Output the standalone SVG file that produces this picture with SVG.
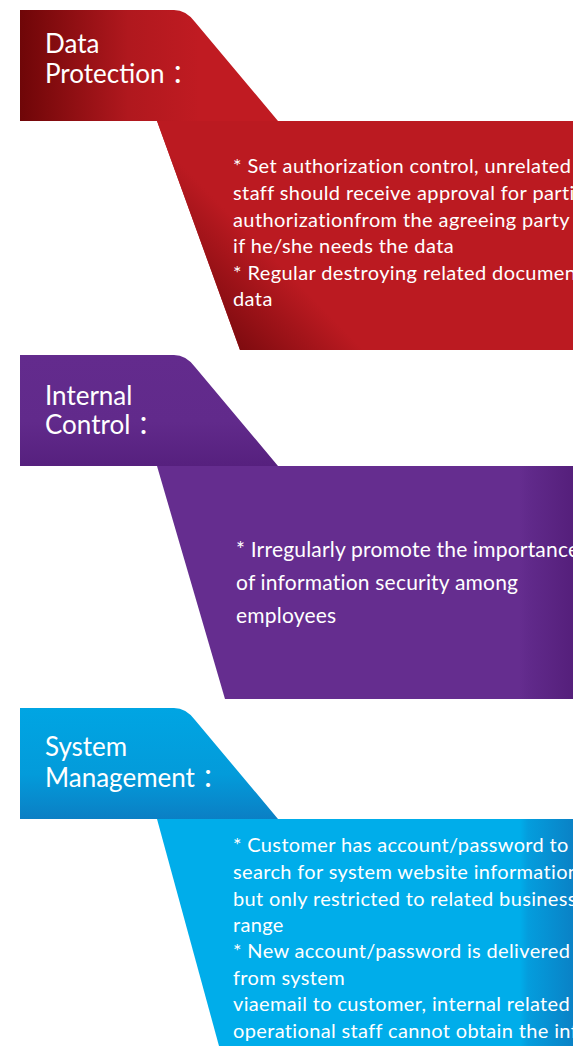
<svg xmlns="http://www.w3.org/2000/svg" width="573" height="1046" viewBox="0 0 573 1046">
  <defs>
    <linearGradient id="tabRed" gradientUnits="userSpaceOnUse" x1="20" y1="0" x2="200" y2="0">
      <stop offset="0" stop-color="#6f0608"/>
      <stop offset="0.6" stop-color="#b0181e"/>
      <stop offset="1" stop-color="#c01b22"/>
    </linearGradient>
    <linearGradient id="bodyRed" gradientUnits="userSpaceOnUse" x1="232" y1="352" x2="300" y2="285">
      <stop offset="0" stop-color="#7a0a0e"/>
      <stop offset="1" stop-color="#bb1a21"/>
    </linearGradient>
    <linearGradient id="tabPurple" x1="0" y1="0" x2="0" y2="1">
      <stop offset="0" stop-color="#632b8d"/>
      <stop offset="0.6" stop-color="#612a8b"/>
      <stop offset="1" stop-color="#56207e"/>
    </linearGradient>
    <linearGradient id="bodyPurple" gradientUnits="userSpaceOnUse" x1="520" y1="0" x2="573" y2="0">
      <stop offset="0" stop-color="#652d8f"/>
      <stop offset="0.15" stop-color="#612a8b"/>
      <stop offset="1" stop-color="#551f7b"/>
    </linearGradient>
    <linearGradient id="tabBlue" x1="0" y1="0" x2="0" y2="1">
      <stop offset="0" stop-color="#00a5e3"/>
      <stop offset="0.6" stop-color="#039bda"/>
      <stop offset="1" stop-color="#0b7fc4"/>
    </linearGradient>
    <linearGradient id="bodyBlue" gradientUnits="userSpaceOnUse" x1="520" y1="0" x2="573" y2="0">
      <stop offset="0" stop-color="#00adea"/>
      <stop offset="0.15" stop-color="#049ddd"/>
      <stop offset="1" stop-color="#0a82c6"/>
    </linearGradient>
    <path id="tabShape" d="M20,0 H174 Q186,0 195,12 L278,111 H20 Z"/>
  </defs>
  <style>
    .tab { font-family: Lato, "Open Sans", "Noto Sans CJK SC", sans-serif; font-size: 26px; fill: #ffffff; }
    .body { font-family: Lato, "Open Sans", "Noto Sans CJK SC", sans-serif; font-size: 20px; letter-spacing: 0.4px; fill: #ffffff; }
  </style>

  <g id="data-protection-body">
    <path d="M157,121 H573 V350 H240 Z" fill="#bb1a21"/>
    <path d="M157,121 H573 V350 H240 Z" fill="url(#bodyRed)"/>
    <text class="body">
      <tspan x="233" y="173">* Set authorization control, unrelated</tspan>
      <tspan x="233" y="200">staff should receive approval for partial</tspan>
      <tspan x="233" y="227">authorizationfrom the agreeing party</tspan>
      <tspan x="233" y="253">if he/she needs the data</tspan>
      <tspan x="233" y="280">* Regular destroying related documents</tspan>
      <tspan x="233" y="306">data</tspan>
    </text>
  </g>
  <g id="data-protection-tab">
    <use href="#tabShape" y="10" fill="url(#tabRed)"/>
    <text class="tab"><tspan x="45" y="53">Data</tspan><tspan x="45" y="83">Protection ：</tspan></text>
  </g>

  <g id="internal-control-body">
    <path d="M157,466 H573 V699 H225 Z" fill="url(#bodyPurple)"/>
    <text class="body" style="font-size:21px;letter-spacing:0.2px">
      <tspan x="236" y="557">* Irregularly promote the importance</tspan>
      <tspan x="236" y="590">of information security among</tspan>
      <tspan x="236" y="623">employees</tspan>
    </text>
  </g>
  <g id="internal-control-tab">
    <use href="#tabShape" y="355" fill="url(#tabPurple)"/>
    <text class="tab"><tspan x="45" y="405">Internal</tspan><tspan x="45" y="434">Control ：</tspan></text>
  </g>

  <g id="system-management-body">
    <path d="M157,819 H573 V1046 H219 Z" fill="url(#bodyBlue)"/>
    <text class="body" style="letter-spacing:0.35px">
      <tspan x="233" y="852">* Customer has account/password to</tspan>
      <tspan x="233" y="879">search for system website information</tspan>
      <tspan x="233" y="906">but only restricted to related business</tspan>
      <tspan x="233" y="932">range</tspan>
      <tspan x="233" y="958">* New account/password is delivered</tspan>
      <tspan x="233" y="985">from system</tspan>
      <tspan x="233" y="1011">viaemail to customer, internal related</tspan>
      <tspan x="233" y="1038">operational staff cannot obtain the info</tspan>
    </text>
  </g>
  <g id="system-management-tab">
    <use href="#tabShape" y="708" fill="url(#tabBlue)"/>
    <text class="tab"><tspan x="45" y="756">System</tspan><tspan x="45" y="787">Management ：</tspan></text>
  </g>

  <g id="connectors"/>
</svg>
